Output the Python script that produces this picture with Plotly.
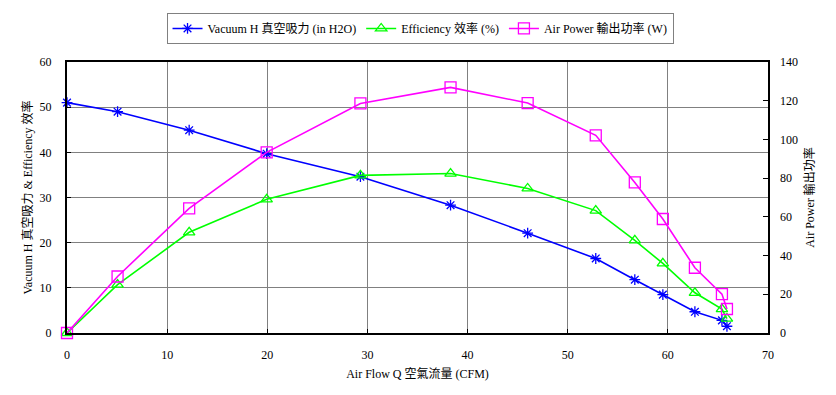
import plotly.graph_objects as go

airflow = [0.0, 5.05, 12.2, 19.94, 29.3, 38.3, 46.0, 52.8, 56.7, 59.5, 62.7, 65.4, 65.9]
vacuum = [51.0, 49.0, 44.9, 39.7, 34.6, 28.3, 22.1, 16.5, 11.8, 8.5, 4.7, 2.8, 1.5]
efficiency = [0.0, 10.7, 22.3, 29.6, 34.9, 35.3, 32.0, 27.1, 20.5, 15.4, 8.9, 5.3, 3.2]
air_power = [0.0, 29.2, 64.4, 93.3, 118.6, 126.9, 118.8, 102.1, 77.8, 58.9, 33.7, 20.1, 12.4]

FONT = "Liberation Serif, Times New Roman, Noto Sans CJK TC, serif"

fig = go.Figure()
fig.add_trace(go.Scatter(
    x=airflow, y=vacuum, name="Vacuum H 真空吸力 (in H2O)", mode="lines+markers",
    line=dict(color="#0000FF", width=1.6),
    marker=dict(symbol="asterisk", size=9, line=dict(color="#0000FF", width=1.3), color="#0000FF"),
    cliponaxis=False,
))
fig.add_trace(go.Scatter(
    x=airflow, y=efficiency, name="Efficiency 效率 (%)", mode="lines+markers",
    line=dict(color="#00FF00", width=1.6),
    marker=dict(symbol="triangle-up-open", size=10, line=dict(color="#00FF00", width=1.3), color="#00FF00"),
    cliponaxis=False,
))
fig.add_trace(go.Scatter(
    x=airflow, y=air_power, name="Air Power 輸出功率 (W)", mode="lines+markers", yaxis="y2",
    line=dict(color="#FF00FF", width=1.6),
    marker=dict(symbol="square-open", size=11, line=dict(color="#FF00FF", width=1.3), color="#FF00FF"),
    cliponaxis=False,
))

# page body has an 8px margin, so the figure is 8px smaller and the margins are shifted
fig.update_layout(
    width=828, height=387,
    margin=dict(l=59, r=68, t=54, b=62, autoexpand=False),
    paper_bgcolor="white", plot_bgcolor="white",
    font=dict(family=FONT, size=12, color="black"),
    showlegend=True,
    legend=dict(
        orientation="h", x=0.5036, xanchor="center", y=1.181, yanchor="top",
        bordercolor="#808080", borderwidth=1, bgcolor="white",
        font=dict(family=FONT, size=12, color="black"),
        itemwidth=30, tracegroupgap=0,
    ),
    xaxis=dict(
        range=[0, 70], dtick=10, tick0=0, automargin=False,
        showgrid=True, gridcolor="#808080", gridwidth=1,
        showline=True, linecolor="black", linewidth=2, mirror=True,
        ticks="inside", ticklen=4, tickcolor="black", ticklabelstandoff=10,
        zeroline=False,
        title=dict(text="Air Flow Q 空氣流量 (CFM)", font=dict(family=FONT, size=12), standoff=8),
    ),
    yaxis=dict(
        range=[0, 60], dtick=10, tick0=0, automargin=False,
        showgrid=True, gridcolor="#808080", gridwidth=1,
        showline=True, linecolor="black", linewidth=2, mirror=True,
        ticks="inside", ticklen=4, tickcolor="black", ticklabelstandoff=11,
        zeroline=False,
        title=dict(text="Vacuum H 真空吸力 & Efficiency 效率", font=dict(family=FONT, size=12), standoff=4),
    ),
    yaxis2=dict(
        range=[0, 140], dtick=20, tick0=0, overlaying="y", side="right", automargin=False,
        showgrid=False, showline=False, zeroline=False,
        ticks="inside", ticklen=5, tickcolor="black", ticklabelstandoff=11,
        title=dict(text="Air Power 輸出功率", font=dict(family=FONT, size=12), standoff=8),
    ),
)

fig.write_html("out.html")
